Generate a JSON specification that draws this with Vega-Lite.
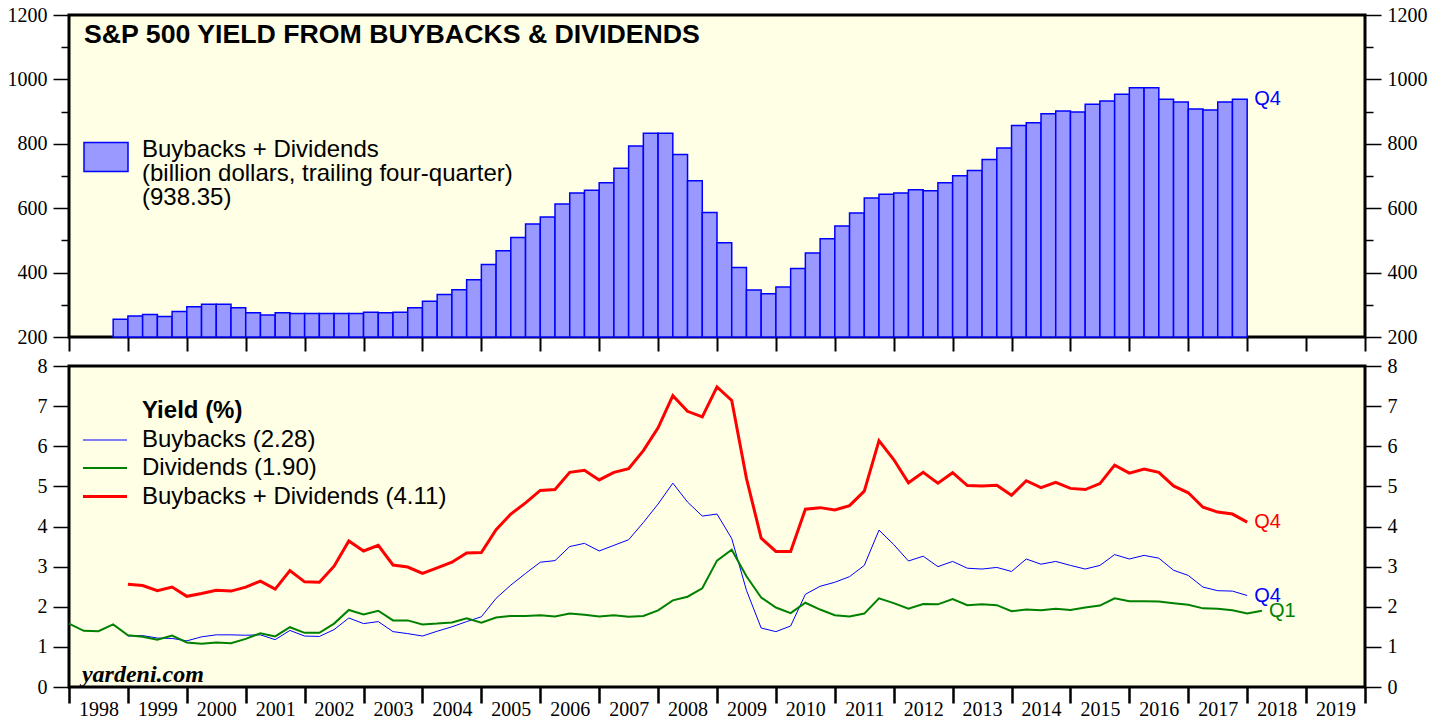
{
  "$schema": "https://vega.github.io/schema/vega-lite/v6.json",
  "background": "white",
  "padding": {"left": 5, "top": 3, "right": 5, "bottom": 5},
  "spacing": 29,
  "bounds": "flush",
  "datasets": {
    "bars": [
      {"start": 1998.75, "end": 1999.0, "value": 255},
      {"start": 1999.0, "end": 1999.25, "value": 265},
      {"start": 1999.25, "end": 1999.5, "value": 270},
      {"start": 1999.5, "end": 1999.75, "value": 264},
      {"start": 1999.75, "end": 2000.0, "value": 279},
      {"start": 2000.0, "end": 2000.25, "value": 294},
      {"start": 2000.25, "end": 2000.5, "value": 302},
      {"start": 2000.5, "end": 2000.75, "value": 302},
      {"start": 2000.75, "end": 2001.0, "value": 291},
      {"start": 2001.0, "end": 2001.25, "value": 275},
      {"start": 2001.25, "end": 2001.5, "value": 268},
      {"start": 2001.5, "end": 2001.75, "value": 275},
      {"start": 2001.75, "end": 2002.0, "value": 273},
      {"start": 2002.0, "end": 2002.25, "value": 273},
      {"start": 2002.25, "end": 2002.5, "value": 273},
      {"start": 2002.5, "end": 2002.75, "value": 273},
      {"start": 2002.75, "end": 2003.0, "value": 273},
      {"start": 2003.0, "end": 2003.25, "value": 277},
      {"start": 2003.25, "end": 2003.5, "value": 275},
      {"start": 2003.5, "end": 2003.75, "value": 277},
      {"start": 2003.75, "end": 2004.0, "value": 291},
      {"start": 2004.0, "end": 2004.25, "value": 311},
      {"start": 2004.25, "end": 2004.5, "value": 332},
      {"start": 2004.5, "end": 2004.75, "value": 347},
      {"start": 2004.75, "end": 2005.0, "value": 378},
      {"start": 2005.0, "end": 2005.25, "value": 425},
      {"start": 2005.25, "end": 2005.5, "value": 468},
      {"start": 2005.5, "end": 2005.75, "value": 509},
      {"start": 2005.75, "end": 2006.0, "value": 551},
      {"start": 2006.0, "end": 2006.25, "value": 573},
      {"start": 2006.25, "end": 2006.5, "value": 613},
      {"start": 2006.5, "end": 2006.75, "value": 647},
      {"start": 2006.75, "end": 2007.0, "value": 656},
      {"start": 2007.0, "end": 2007.25, "value": 679},
      {"start": 2007.25, "end": 2007.5, "value": 724},
      {"start": 2007.5, "end": 2007.75, "value": 793},
      {"start": 2007.75, "end": 2008.0, "value": 833},
      {"start": 2008.0, "end": 2008.25, "value": 833},
      {"start": 2008.25, "end": 2008.5, "value": 767},
      {"start": 2008.5, "end": 2008.75, "value": 685},
      {"start": 2008.75, "end": 2009.0, "value": 587},
      {"start": 2009.0, "end": 2009.25, "value": 493},
      {"start": 2009.25, "end": 2009.5, "value": 416},
      {"start": 2009.5, "end": 2009.75, "value": 346},
      {"start": 2009.75, "end": 2010.0, "value": 334},
      {"start": 2010.0, "end": 2010.25, "value": 355},
      {"start": 2010.25, "end": 2010.5, "value": 413},
      {"start": 2010.5, "end": 2010.75, "value": 461},
      {"start": 2010.75, "end": 2011.0, "value": 505},
      {"start": 2011.0, "end": 2011.25, "value": 545},
      {"start": 2011.25, "end": 2011.5, "value": 585},
      {"start": 2011.5, "end": 2011.75, "value": 632},
      {"start": 2011.75, "end": 2012.0, "value": 643},
      {"start": 2012.0, "end": 2012.25, "value": 647},
      {"start": 2012.25, "end": 2012.5, "value": 657},
      {"start": 2012.5, "end": 2012.75, "value": 654},
      {"start": 2012.75, "end": 2013.0, "value": 679},
      {"start": 2013.0, "end": 2013.25, "value": 701},
      {"start": 2013.25, "end": 2013.5, "value": 717},
      {"start": 2013.5, "end": 2013.75, "value": 751},
      {"start": 2013.75, "end": 2014.0, "value": 787},
      {"start": 2014.0, "end": 2014.25, "value": 857},
      {"start": 2014.25, "end": 2014.5, "value": 865},
      {"start": 2014.5, "end": 2014.75, "value": 893},
      {"start": 2014.75, "end": 2015.0, "value": 902},
      {"start": 2015.0, "end": 2015.25, "value": 899},
      {"start": 2015.25, "end": 2015.5, "value": 923},
      {"start": 2015.5, "end": 2015.75, "value": 933},
      {"start": 2015.75, "end": 2016.0, "value": 954},
      {"start": 2016.0, "end": 2016.25, "value": 974},
      {"start": 2016.25, "end": 2016.5, "value": 974},
      {"start": 2016.5, "end": 2016.75, "value": 938},
      {"start": 2016.75, "end": 2017.0, "value": 930},
      {"start": 2017.0, "end": 2017.25, "value": 908},
      {"start": 2017.25, "end": 2017.5, "value": 905},
      {"start": 2017.5, "end": 2017.75, "value": 930},
      {"start": 2017.75, "end": 2018.0, "value": 938.35}
    ],
    "barLabel": [{"t": 2018.0, "value": 938.35, "label": "Q4"}],
    "yields": [
      {"t": 1998.0, "dividends": 1.58},
      {"t": 1998.25, "dividends": 1.40},
      {"t": 1998.5, "dividends": 1.39},
      {"t": 1998.75, "dividends": 1.56},
      {"t": 1999.0, "buybacks": 1.27, "dividends": 1.29, "total": 2.56},
      {"t": 1999.25, "buybacks": 1.28, "dividends": 1.25, "total": 2.53},
      {"t": 1999.5, "buybacks": 1.22, "dividends": 1.18, "total": 2.40},
      {"t": 1999.75, "buybacks": 1.21, "dividends": 1.28, "total": 2.49},
      {"t": 2000.0, "buybacks": 1.15, "dividends": 1.11, "total": 2.26},
      {"t": 2000.25, "buybacks": 1.25, "dividends": 1.08, "total": 2.33},
      {"t": 2000.5, "buybacks": 1.30, "dividends": 1.11, "total": 2.41},
      {"t": 2000.75, "buybacks": 1.30, "dividends": 1.09, "total": 2.39},
      {"t": 2001.0, "buybacks": 1.29, "dividends": 1.20, "total": 2.49},
      {"t": 2001.25, "buybacks": 1.30, "dividends": 1.34, "total": 2.64},
      {"t": 2001.5, "buybacks": 1.18, "dividends": 1.26, "total": 2.44},
      {"t": 2001.75, "buybacks": 1.41, "dividends": 1.49, "total": 2.90},
      {"t": 2002.0, "buybacks": 1.27, "dividends": 1.35, "total": 2.62},
      {"t": 2002.25, "buybacks": 1.26, "dividends": 1.35, "total": 2.61},
      {"t": 2002.5, "buybacks": 1.43, "dividends": 1.58, "total": 3.01},
      {"t": 2002.75, "buybacks": 1.72, "dividends": 1.92, "total": 3.64},
      {"t": 2003.0, "buybacks": 1.58, "dividends": 1.81, "total": 3.39},
      {"t": 2003.25, "buybacks": 1.63, "dividends": 1.90, "total": 3.53},
      {"t": 2003.5, "buybacks": 1.38, "dividends": 1.66, "total": 3.04},
      {"t": 2003.75, "buybacks": 1.33, "dividends": 1.66, "total": 2.99},
      {"t": 2004.0, "buybacks": 1.27, "dividends": 1.56, "total": 2.83},
      {"t": 2004.25, "buybacks": 1.39, "dividends": 1.58, "total": 2.97},
      {"t": 2004.5, "buybacks": 1.50, "dividends": 1.61, "total": 3.11},
      {"t": 2004.75, "buybacks": 1.63, "dividends": 1.71, "total": 3.34},
      {"t": 2005.0, "buybacks": 1.75, "dividends": 1.60, "total": 3.35},
      {"t": 2005.25, "buybacks": 2.21, "dividends": 1.73, "total": 3.92},
      {"t": 2005.5, "buybacks": 2.54, "dividends": 1.77, "total": 4.31},
      {"t": 2005.75, "buybacks": 2.83, "dividends": 1.77, "total": 4.59},
      {"t": 2006.0, "buybacks": 3.11, "dividends": 1.79, "total": 4.90},
      {"t": 2006.25, "buybacks": 3.15, "dividends": 1.76, "total": 4.92},
      {"t": 2006.5, "buybacks": 3.50, "dividends": 1.83, "total": 5.35},
      {"t": 2006.75, "buybacks": 3.58, "dividends": 1.80, "total": 5.40},
      {"t": 2007.0, "buybacks": 3.39, "dividends": 1.76, "total": 5.16},
      {"t": 2007.25, "buybacks": 3.53, "dividends": 1.79, "total": 5.35},
      {"t": 2007.5, "buybacks": 3.67, "dividends": 1.75, "total": 5.44},
      {"t": 2007.75, "buybacks": 4.10, "dividends": 1.77, "total": 5.89},
      {"t": 2008.0, "buybacks": 4.56, "dividends": 1.91, "total": 6.46},
      {"t": 2008.25, "buybacks": 5.08, "dividends": 2.16, "total": 7.26},
      {"t": 2008.5, "buybacks": 4.61, "dividends": 2.25, "total": 6.87},
      {"t": 2008.75, "buybacks": 4.26, "dividends": 2.46, "total": 6.73},
      {"t": 2009.0, "buybacks": 4.31, "dividends": 3.15, "total": 7.48},
      {"t": 2009.25, "buybacks": 3.70, "dividends": 3.42, "total": 7.14},
      {"t": 2009.5, "buybacks": 2.41, "dividends": 2.76, "total": 5.20},
      {"t": 2009.75, "buybacks": 1.47, "dividends": 2.23, "total": 3.71},
      {"t": 2010.0, "buybacks": 1.38, "dividends": 1.98, "total": 3.38},
      {"t": 2010.25, "buybacks": 1.52, "dividends": 1.84, "total": 3.38},
      {"t": 2010.5, "buybacks": 2.31, "dividends": 2.10, "total": 4.43},
      {"t": 2010.75, "buybacks": 2.51, "dividends": 1.93, "total": 4.47},
      {"t": 2011.0, "buybacks": 2.61, "dividends": 1.79, "total": 4.41},
      {"t": 2011.25, "buybacks": 2.75, "dividends": 1.76, "total": 4.52},
      {"t": 2011.5, "buybacks": 3.03, "dividends": 1.83, "total": 4.88},
      {"t": 2011.75, "buybacks": 3.91, "dividends": 2.21, "total": 6.14},
      {"t": 2012.0, "buybacks": 3.55, "dividends": 2.09, "total": 5.67},
      {"t": 2012.25, "buybacks": 3.14, "dividends": 1.95, "total": 5.09},
      {"t": 2012.5, "buybacks": 3.26, "dividends": 2.07, "total": 5.35},
      {"t": 2012.75, "buybacks": 3.00, "dividends": 2.06, "total": 5.08},
      {"t": 2013.0, "buybacks": 3.13, "dividends": 2.19, "total": 5.34},
      {"t": 2013.25, "buybacks": 2.96, "dividends": 2.04, "total": 5.02},
      {"t": 2013.5, "buybacks": 2.94, "dividends": 2.06, "total": 5.01},
      {"t": 2013.75, "buybacks": 2.98, "dividends": 2.04, "total": 5.03},
      {"t": 2014.0, "buybacks": 2.88, "dividends": 1.89, "total": 4.78},
      {"t": 2014.25, "buybacks": 3.19, "dividends": 1.93, "total": 5.14},
      {"t": 2014.5, "buybacks": 3.06, "dividends": 1.91, "total": 4.97},
      {"t": 2014.75, "buybacks": 3.13, "dividends": 1.95, "total": 5.10},
      {"t": 2015.0, "buybacks": 3.03, "dividends": 1.92, "total": 4.95},
      {"t": 2015.25, "buybacks": 2.94, "dividends": 1.98, "total": 4.92},
      {"t": 2015.5, "buybacks": 3.03, "dividends": 2.03, "total": 5.07},
      {"t": 2015.75, "buybacks": 3.30, "dividends": 2.21, "total": 5.53},
      {"t": 2016.0, "buybacks": 3.19, "dividends": 2.14, "total": 5.33},
      {"t": 2016.25, "buybacks": 3.28, "dividends": 2.14, "total": 5.43},
      {"t": 2016.5, "buybacks": 3.21, "dividends": 2.13, "total": 5.35},
      {"t": 2016.75, "buybacks": 2.91, "dividends": 2.09, "total": 5.01},
      {"t": 2017.0, "buybacks": 2.78, "dividends": 2.05, "total": 4.84},
      {"t": 2017.25, "buybacks": 2.49, "dividends": 1.96, "total": 4.48},
      {"t": 2017.5, "buybacks": 2.40, "dividends": 1.95, "total": 4.36},
      {"t": 2017.75, "buybacks": 2.39, "dividends": 1.91, "total": 4.31},
      {"t": 2018.0, "buybacks": 2.28, "dividends": 1.83, "total": 4.11},
      {"t": 2018.25, "dividends": 1.90}
    ],
    "endLabels": [
      {"t": 2018.0, "series": "total", "value": 4.11, "label": "Q4"},
      {"t": 2018.0, "series": "buybacks", "value": 2.28, "label": "Q4"},
      {"t": 2018.25, "series": "dividends", "value": 1.90, "label": "Q1"}
    ],
    "credit": [{"text": "yardeni.com"}]
  },
  "resolve": {
    "scale": {"color": "independent", "strokeWidth": "independent", "x": "independent", "y": "independent"},
    "legend": {"color": "independent", "strokeWidth": "independent"}
  },
  "vconcat": [
    {
      "width": 1296,
      "height": 322,
      "title": {
        "text": "S&P 500 YIELD FROM BUYBACKS & DIVIDENDS",
        "anchor": "start",
        "frame": "group",
        "orient": "top",
        "offset": -65,
        "dx": 15,
        "baseline": "alphabetic",
        "font": "Liberation Sans",
        "fontSize": 26.7,
        "fontWeight": "bold",
        "color": "#000000"
      },
      "resolve": {"axis": {"y": "independent"}},
      "layer": [
        {
          "data": {"name": "bars"},
          "mark": {"type": "bar", "stroke": "#0000ff", "strokeWidth": 1.5},
          "encoding": {
            "x": {
              "field": "start", "type": "quantitative",
              "scale": {"domain": [1998, 2020], "nice": false, "zero": false},
              "axis": {
                "values": [1998, 1999, 2000, 2001, 2002, 2003, 2004, 2005, 2006, 2007, 2008, 2009, 2010, 2011, 2012, 2013, 2014, 2015, 2016, 2017, 2018, 2019, 2020],
                "labels": false, "tickSize": 14, "tickWidth": 2, "title": null
              }
            },
            "x2": {"field": "end"},
            "y": {
              "field": "value", "type": "quantitative",
              "scale": {"domain": [200, 1200], "nice": false, "zero": false},
              "axis": {
                "orient": "left",
                "values": [200, 300, 400, 500, 600, 700, 800, 900, 1000, 1100, 1200],
                "format": "d",
                "labelExpr": "datum.value % 200 == 0 ? datum.label : ''",
                "tickSize": {"condition": {"test": "datum.value % 200 == 0", "value": 16}, "value": 8},
                "tickWidth": 1.5, "labelPadding": 6, "title": null
              }
            },
            "y2": {"datum": 200},
            "color": {
              "datum": "Buybacks + Dividends", "type": "nominal",
              "scale": {"range": ["#9999ff"]},
              "legend": {
                "orient": "none", "legendX": 14, "legendY": 111.5, "title": null,
                "symbolType": "M-1,-0.32H1V1H-1Z", "symbolSize": 1936,
                "symbolStrokeColor": "#0000ff", "symbolStrokeWidth": 1.5, "symbolOpacity": 1,
                "labelExpr": "['Buybacks + Dividends', '(billion dollars, trailing four-quarter)', '(938.35)']",
                "labelFont": "Liberation Sans", "labelFontSize": 24, "labelColor": "#000000",
                "labelLimit": 0, "labelOffset": 13, "padding": 0
              }
            }
          }
        },
        {
          "data": {"name": "barLabel"},
          "mark": {"type": "text", "align": "left", "baseline": "middle", "dx": 7, "font": "Liberation Sans", "fontSize": 20, "color": "#0000ff"},
          "encoding": {
            "x": {"field": "t", "type": "quantitative"},
            "y": {
              "field": "value", "type": "quantitative",
              "axis": {
                "orient": "right",
                "values": [200, 300, 400, 500, 600, 700, 800, 900, 1000, 1100, 1200],
                "format": "d",
                "labelExpr": "datum.value % 200 == 0 ? datum.label : ''",
                "tickSize": {"condition": {"test": "datum.value % 200 == 0", "value": 16}, "value": 8},
                "tickWidth": 1.5, "labelPadding": 6, "title": null
              }
            },
            "text": {"field": "label"}
          }
        }
      ]
    },
    {
      "width": 1296,
      "height": 321,
      "resolve": {"axis": {"y": "independent"}},
      "layer": [
        {
          "data": {"name": "yields"},
          "transform": [{"fold": ["buybacks", "dividends", "total"], "as": ["series", "value"]}],
          "mark": {"type": "line"},
          "encoding": {
            "x": {
              "field": "t", "type": "quantitative",
              "scale": {"domain": [1998, 2020], "nice": false, "zero": false},
              "axis": {
                "values": [1998, 1999, 2000, 2001, 2002, 2003, 2004, 2005, 2006, 2007, 2008, 2009, 2010, 2011, 2012, 2013, 2014, 2015, 2016, 2017, 2018, 2019, 2020],
                "format": "d",
                "labelExpr": "datum.value == 2020 ? '' : datum.label",
                "labelOffset": 29.45, "labelPadding": -4, "labelBaseline": "top",
                "labelFlush": false, "labelOverlap": false, "labelBound": false,
                "tickSize": 16, "tickWidth": 2.5, "title": null
              }
            },
            "y": {
              "field": "value", "type": "quantitative",
              "scale": {"domain": [0, 8], "nice": false},
              "axis": {
                "orient": "left",
                "values": [0, 0.5, 1, 1.5, 2, 2.5, 3, 3.5, 4, 4.5, 5, 5.5, 6, 6.5, 7, 7.5, 8],
                "format": "d",
                "labelExpr": "datum.value % 1 == 0 ? datum.label : ''",
                "tickSize": {"condition": {"test": "datum.value % 1 == 0", "value": 16}, "value": 8},
                "tickWidth": 1.5, "labelPadding": 6, "title": null
              }
            },
            "color": {
              "field": "series", "type": "nominal",
              "scale": {"domain": ["buybacks", "dividends", "total"], "range": ["#0000ff", "#008000", "#ff0000"]},
              "legend": {
                "orient": "none", "legendX": 73, "legendY": 33,
                "title": "Yield (%)", "titleFont": "Liberation Sans", "titleFontSize": 24, "titleFontWeight": "bold",
                "titleColor": "#000000", "titlePadding": 5, "titleAnchor": "start",
                "symbolType": "M-2,0H2", "symbolSize": 484, "symbolOffset": -49.5,
                "labelExpr": "datum.label == 'buybacks' ? 'Buybacks (2.28)' : datum.label == 'dividends' ? 'Dividends (1.90)' : 'Buybacks + Dividends (4.11)'",
                "labelFont": "Liberation Sans", "labelFontSize": 24, "labelColor": "#000000",
                "labelLimit": 0, "labelOffset": 24.5, "rowPadding": 4, "padding": 0
              }
            },
            "strokeWidth": {
              "field": "series", "type": "nominal",
              "scale": {"domain": ["buybacks", "dividends", "total"], "range": [1, 3, 3]}
            }
          }
        },
        {
          "data": {"name": "endLabels"},
          "mark": {"type": "text", "align": "left", "baseline": "middle", "dx": 7, "font": "Liberation Sans", "fontSize": 20},
          "encoding": {
            "x": {"field": "t", "type": "quantitative"},
            "y": {
              "field": "value", "type": "quantitative",
              "axis": {
                "orient": "right",
                "values": [0, 0.5, 1, 1.5, 2, 2.5, 3, 3.5, 4, 4.5, 5, 5.5, 6, 6.5, 7, 7.5, 8],
                "format": "d",
                "labelExpr": "datum.value % 1 == 0 ? datum.label : ''",
                "tickSize": {"condition": {"test": "datum.value % 1 == 0", "value": 16}, "value": 8},
                "tickWidth": 1.5, "labelPadding": 6, "title": null
              }
            },
            "color": {"field": "series", "type": "nominal", "legend": null},
            "text": {"field": "label"}
          }
        },
        {
          "data": {"name": "credit"},
          "mark": {"type": "text", "align": "left", "baseline": "alphabetic", "font": "Liberation Serif", "fontSize": 24, "fontWeight": "bold", "fontStyle": "italic", "color": "#000000"},
          "encoding": {
            "x": {"datum": 1998.22, "type": "quantitative"},
            "y": {"datum": 0.125, "type": "quantitative", "axis": null},
            "text": {"field": "text"}
          }
        }
      ]
    }
  ],
  "config": {
    "view": {"stroke": "#000000", "strokeWidth": 3, "fill": "#ffffe5"},
    "axis": {
      "labelFont": "Liberation Serif", "labelFontSize": 20, "labelColor": "#000000",
      "tickColor": "#000000", "domain": false, "grid": false
    },
    "legend": {"padding": 0},
    "style": {"guide-label": {"lineHeight": 24}}
  }
}
